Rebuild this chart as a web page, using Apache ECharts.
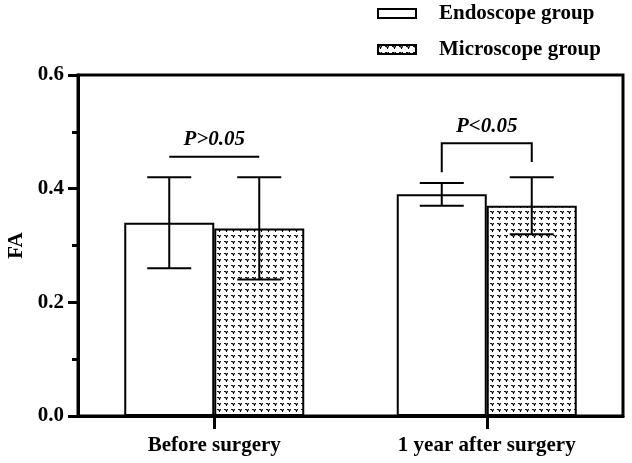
<!DOCTYPE html>
<html>
<head>
<meta charset="utf-8">
<script src="https://cdn.jsdelivr.net/npm/echarts@6/dist/echarts.min.js"></script>
<style>
  html, body { margin: 0; padding: 0; background: #fff; }
  #chart { width: 632px; height: 463px; }
</style>
</head>
<body>
<div id="chart"></div>
<script>
// data
const categories = ['Before surgery', '1 year after surgery'];
const groups = ['Endoscope group', 'Microscope group'];
const endoMean = [0.34, 0.39];
const endoLow  = [0.26, 0.37];
const endoHigh = [0.42, 0.41];
const microMean = [0.33, 0.37];
const microLow  = [0.24, 0.32];
const microHigh = [0.42, 0.42];
// significance marks: line level, left leg end, right leg end, text level
const sigText  = ['P>0.05', 'P<0.05'];
const sigLine  = [0.456, 0.48];
const sigLeft  = [0.456, 0.429];
const sigRight = [0.456, 0.447];
const sigLabel = [0.486, 0.51];

const FONT = '"Liberation Serif", "Times New Roman", serif';
const BAR_W = 90;

// dotted "v" fill for the microscope bars
function makePattern() {
  const c = document.createElement('canvas');
  c.width = 7; c.height = 6;
  const g = c.getContext('2d');
  g.fillStyle = '#fff'; g.fillRect(0, 0, 7, 6);
  g.fillStyle = '#888'; g.fillRect(1, 2, 1, 1); g.fillRect(3, 2, 1, 1); g.fillRect(2, 1, 1, 1);
  g.fillStyle = '#111'; g.fillRect(1, 1, 1, 1); g.fillRect(3, 1, 1, 1); g.fillRect(0, 1, 1, 1);
  g.fillStyle = '#000'; g.fillRect(2, 2, 1, 1); g.fillRect(2, 3, 1, 1);
  return c;
}

function errSeries(low, high, dir) {
  return {
    type: 'custom',
    z: 5,
    silent: true,
    data: categories.map((c, i) => [i, low[i], high[i]]),
    renderItem: (params, api) => {
      const lo = api.coord([api.value(0), api.value(1)]);
      const hi = api.coord([api.value(0), api.value(2)]);
      const x = lo[0] + dir * BAR_W / 2;
      const cap = 22;
      const st = { stroke: '#000', lineWidth: 2 };
      return {
        type: 'group',
        children: [
          { type: 'line', shape: { x1: x, y1: lo[1], x2: x, y2: hi[1] }, style: st },
          { type: 'line', shape: { x1: x - cap, y1: lo[1], x2: x + cap, y2: lo[1] }, style: st },
          { type: 'line', shape: { x1: x - cap, y1: hi[1], x2: x + cap, y2: hi[1] }, style: st }
        ]
      };
    }
  };
}

const chart = echarts.init(document.getElementById('chart'));
chart.setOption({
  backgroundColor: '#fff',
  animation: false,
  textStyle: { fontFamily: FONT },
  legend: {
    orient: 'vertical',
    left: 377,
    top: 3,
    padding: 0,
    icon: 'rect',
    itemWidth: 38,
    itemHeight: 9,
    itemGap: 15,
    data: groups,
    textStyle: { fontFamily: FONT, fontWeight: 'bold', fontSize: 21, color: '#000', padding: [0, 0, 0, 18] }
  },
  grid: {
    left: 78, right: 9, top: 75, bottom: 47,
    outerBoundsMode: 'none',
    containLabel: false,
    show: true, borderColor: '#000', borderWidth: 3, backgroundColor: 'transparent'
  },
  xAxis: {
    type: 'category',
    data: categories,
    axisLine: { show: true, lineStyle: { color: '#000', width: 3 } },
    axisTick: { show: true, alignWithLabel: true, length: 13, lineStyle: { width: 3, color: '#000' } },
    axisLabel: { color: '#000', fontFamily: FONT, fontWeight: 'bold', fontSize: 21, margin: 19 }
  },
  yAxis: {
    type: 'value',
    min: 0, max: 0.6, interval: 0.2,
    name: 'FA',
    nameLocation: 'middle',
    nameRotate: 90,
    nameGap: 51,
    nameTextStyle: { color: '#000', fontFamily: FONT, fontWeight: 'bold', fontSize: 21 },
    axisLine: { show: true, lineStyle: { color: '#000', width: 3 } },
    axisTick: { show: true, length: 10, lineStyle: { width: 3, color: '#000' } },
    minorTick: { show: true, splitNumber: 2, length: 6, lineStyle: { width: 3, color: '#000' } },
    splitLine: { show: false },
    axisLabel: {
      color: '#000', fontFamily: FONT, fontWeight: 'bold', fontSize: 21, margin: 14,
      formatter: v => v.toFixed(1)
    }
  },
  series: [
    {
      name: groups[0],
      type: 'bar',
      data: endoMean,
      barWidth: BAR_W,
      barGap: '0%',
      itemStyle: { color: '#fff', borderColor: '#000', borderWidth: 2 }
    },
    {
      name: groups[1],
      type: 'bar',
      data: microMean,
      barWidth: BAR_W,
      itemStyle: { color: { image: makePattern(), repeat: 'repeat' }, borderColor: '#000', borderWidth: 2 }
    },
    errSeries(endoLow, endoHigh, -1),
    errSeries(microLow, microHigh, 1),
    {
      type: 'custom',
      z: 6,
      silent: true,
      data: categories.map((c, i) => [i, sigLine[i], sigLeft[i], sigRight[i], sigLabel[i]]),
      renderItem: (params, api) => {
        const i = api.value(0);
        const top = api.coord([i, api.value(1)]);
        const lEnd = api.coord([i, api.value(2)]);
        const rEnd = api.coord([i, api.value(3)]);
        const lab = api.coord([i, api.value(4)]);
        const xl = top[0] - BAR_W / 2, xr = top[0] + BAR_W / 2;
        const st = { stroke: '#000', lineWidth: 2, fill: null };
        return {
          type: 'group',
          children: [
            { type: 'polyline', shape: { points: [[xl, lEnd[1]], [xl, top[1]], [xr, top[1]], [xr, rEnd[1]]] }, style: st },
            { type: 'text', style: {
                text: sigText[params.dataIndex], x: lab[0], y: lab[1],
                fill: '#000', align: 'center', verticalAlign: 'middle',
                font: 'italic bold 21px ' + FONT
            } }
          ]
        };
      }
    }
  ]
});
</script>
</body>
</html>
